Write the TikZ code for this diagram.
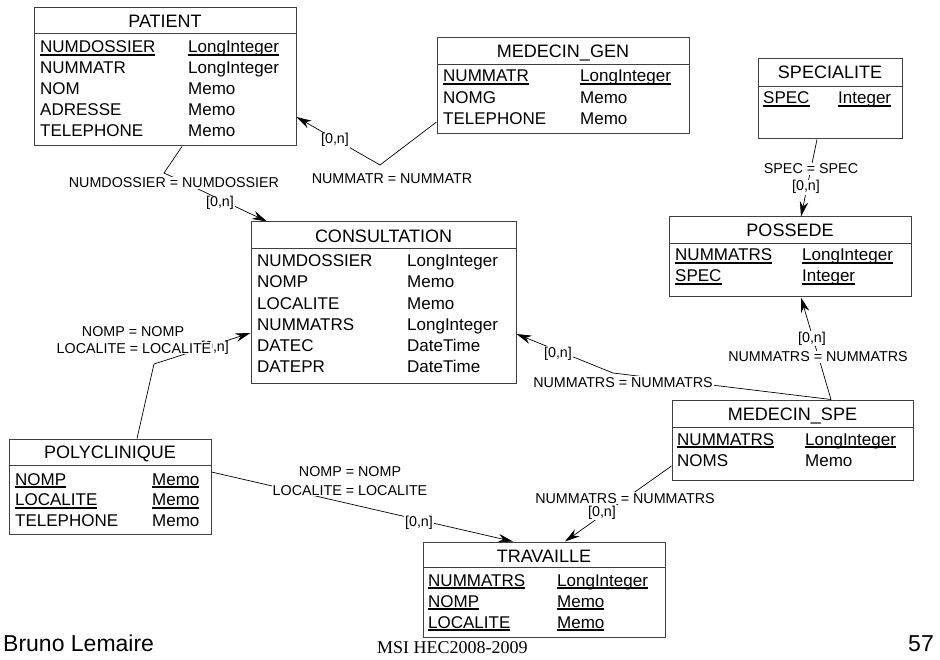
\documentclass[tikz,border=0pt]{standalone}
\usepackage{fontspec}
\setmainfont{Liberation Sans}
\newfontfamily\footserif{Liberation Serif}
\usetikzlibrary{arrows.meta,fit}
\newcommand{\ulx}[1]{\setbox0=\hbox{#1}\rlap{\rule[-3pt]{\wd0}{1.7pt}}\box0}
\definecolor{boxc}{gray}{0.25}
\tikzset{
  ebox/.style={draw=boxc, line width=1pt, inner sep=0pt},
  dv/.style={draw=boxc, line width=1pt},
  ttl/.style={font=\fontsize{18}{20}\selectfont, inner sep=0pt, anchor=base},
  fld/.style={font=\fontsize{17}{20}\selectfont, inner sep=0pt, anchor=base west},
  lbl/.style={font=\fontsize{14.3}{16}\selectfont, fill=white, inner sep=1pt, anchor=base},
  rel/.style={draw=black, line width=0.7pt},
  relarr/.style={rel, -{Stealth[length=15pt,width=8.5pt]}},
  foot/.style={inner sep=0pt},
}
\begin{document}
\begin{tikzpicture}[x=1pt,y=-1pt]
\useasboundingbox (0,0) rectangle (940,660);
\fill[white] (0,0) rectangle (940,660);

% PATIENT
\coordinate (paA) at (34,8); \coordinate (paB) at (296,146);
\node[ebox, fit=(paA)(paB)] (patient) {};
\draw[dv] (patient.west |- 0,34) -- (patient.east |- 0,34);
\node[ttl] (patientT) at (165,28) {PATIENT};
\node[fld] (pa1) at (40,53) {\ulx{NUMDOSSIER}};
\node[fld] (pa1t) at (188,53) {\ulx{LongInteger}};
\node[fld] (pa2) at (40,74) {NUMMATR};
\node[fld] (pa2t) at (188,74) {LongInteger};
\node[fld] (pa3) at (40,95) {NOM};
\node[fld] (pa3t) at (188,95) {Memo};
\node[fld] (pa4) at (40,116) {ADRESSE};
\node[fld] (pa4t) at (188,116) {Memo};
\node[fld] (pa5) at (40,137) {TELEPHONE};
\node[fld] (pa5t) at (188,137) {Memo};

% MEDECIN_GEN
\coordinate (mgA) at (437,38); \coordinate (mgB) at (689,134);
\node[ebox, fit=(mgA)(mgB)] (medgen) {};
\draw[dv] (medgen.west |- 0,65) -- (medgen.east |- 0,65);
\node[ttl] (medgenT) at (563,58) {MEDECIN\_GEN};
\node[fld] (mg1) at (443,82) {\ulx{NUMMATR}};
\node[fld] (mg1t) at (580,82) {\ulx{LongInteger}};
\node[fld] (mg2) at (443,104) {NOMG};
\node[fld] (mg2t) at (580,104) {Memo};
\node[fld] (mg3) at (443,125) {TELEPHONE};
\node[fld] (mg3t) at (580,125) {Memo};

% SPECIALITE
\coordinate (spA) at (758,59); \coordinate (spB) at (902,139);
\node[ebox, fit=(spA)(spB)] (spec) {};
\draw[dv] (spec.west |- 0,87) -- (spec.east |- 0,87);
\node[ttl] (specT) at (830,79) {SPECIALITE};
\node[fld] (sp1) at (763,104) {\ulx{SPEC}};
\node[fld] (sp1t) at (838,104) {\ulx{Integer}};

% POSSEDE
\coordinate (poA) at (669,217); \coordinate (poB) at (911,297);
\node[ebox, fit=(poA)(poB)] (possede) {};
\draw[dv] (possede.west |- 0,244) -- (possede.east |- 0,244);
\node[ttl] (possedeT) at (790,237) {POSSEDE};
\node[fld] (po1) at (675,261) {\ulx{NUMMATRS}};
\node[fld] (po1t) at (802,261) {\ulx{LongInteger}};
\node[fld] (po2) at (675,282) {\ulx{SPEC}};
\node[fld] (po2t) at (802,282) {\ulx{Integer}};

% CONSULTATION
\coordinate (coA) at (251,222); \coordinate (coB) at (516,383);
\node[ebox, fit=(coA)(coB)] (consult) {};
\draw[dv] (consult.west |- 0,249) -- (consult.east |- 0,249);
\node[ttl] (consultT) at (383.5,243) {CONSULTATION};
\node[fld] (co1) at (257,267) {NUMDOSSIER};
\node[fld] (co1t) at (407,267) {LongInteger};
\node[fld] (co2) at (257,288) {NOMP};
\node[fld] (co2t) at (407,288) {Memo};
\node[fld] (co3) at (257,310) {LOCALITE};
\node[fld] (co3t) at (407,310) {Memo};
\node[fld] (co4) at (257,331) {NUMMATRS};
\node[fld] (co4t) at (407,331) {LongInteger};
\node[fld] (co5) at (257,352) {DATEC};
\node[fld] (co5t) at (407,352) {DateTime};
\node[fld] (co6) at (257,373) {DATEPR};
\node[fld] (co6t) at (407,373) {DateTime};

% MEDECIN_SPE
\coordinate (msA) at (672,400); \coordinate (msB) at (913,480);
\node[ebox, fit=(msA)(msB)] (medspe) {};
\draw[dv] (medspe.west |- 0,427) -- (medspe.east |- 0,427);
\node[ttl] (medspeT) at (792.5,420) {MEDECIN\_SPE};
\node[fld] (ms1) at (677,445) {\ulx{NUMMATRS}};
\node[fld] (ms1t) at (805,445) {\ulx{LongInteger}};
\node[fld] (ms2) at (677,466) {NOMS};
\node[fld] (ms2t) at (805,466) {Memo};

% POLYCLINIQUE
\coordinate (plA) at (9,439); \coordinate (plB) at (211,534);
\node[ebox, fit=(plA)(plB)] (poly) {};
\draw[dv] (poly.west |- 0,465) -- (poly.east |- 0,465);
\node[ttl] (polyT) at (110,458) {POLYCLINIQUE};
\node[fld] (pl1) at (15,485) {\ulx{NOMP}};
\node[fld] (pl1t) at (152,485) {\ulx{Memo}};
\node[fld] (pl2) at (15,505.5) {\ulx{LOCALITE}};
\node[fld] (pl2t) at (152,505.5) {\ulx{Memo}};
\node[fld] (pl3) at (15,526) {TELEPHONE};
\node[fld] (pl3t) at (152,526) {Memo};

% TRAVAILLE
\coordinate (trA) at (423,542); \coordinate (trB) at (665,637);
\node[ebox, fit=(trA)(trB)] (travaille) {};
\draw[dv] (travaille.west |- 0,567) -- (travaille.east |- 0,567);
\node[ttl] (travailleT) at (544,562) {TRAVAILLE};
\node[fld] (tr1) at (428,586) {\ulx{NUMMATRS}};
\node[fld] (tr1t) at (557,586) {\ulx{LongInteger}};
\node[fld] (tr2) at (428,607) {\ulx{NOMP}};
\node[fld] (tr2t) at (557,607) {\ulx{Memo}};
\node[fld] (tr3) at (428,628) {\ulx{LOCALITE}};
\node[fld] (tr3t) at (557,628) {\ulx{Memo}};

% Relations
% PATIENT -> CONSULTATION
\draw[relarr] (patient.south -| 182,0) -- (164,173) -- (consult.north -| 267,0);
\node[lbl] (r1a) at (174,188) {NUMDOSSIER = NUMDOSSIER};
\node[lbl] (r1b) at (220,207) {[0,n]};

% MEDECIN_GEN -> PATIENT
\draw[relarr] (medgen.west |- 0,122) -- (380,165) -- (patient.east |- 0,117);
\node[lbl] (r2a) at (392,184) {NUMMATR = NUMMATR};
\node[lbl] (r2b) at (335,144) {[0,n]};

% SPECIALITE -> POSSEDE
\draw[relarr] (spec.south -| 817,0) -- (possede.north -| 801,0);
\node[lbl] (r3a) at (811,174) {SPEC = SPEC};
\node[lbl] (r3b) at (806,191) {[0,n]};

% MEDECIN_SPE -> POSSEDE
\draw[relarr] (medspe.north -| 831,0) -- (possede.south -| 801,0);
\node[lbl] (r4b) at (812,342) {[0,n]};
\node[lbl] (r4a) at (818,362) {NUMMATRS = NUMMATRS};

% MEDECIN_SPE -> CONSULTATION
\draw[relarr] (medspe.north -| 831,0) -- (613,373) -- (consult.east |- 0,334);
\node[lbl] (r5a) at (623,387) {NUMMATRS = NUMMATRS};
\node[lbl] (r5b) at (558,357) {[0,n]};

% POLYCLINIQUE -> CONSULTATION
\draw[relarr] (poly.north -| 137,0) -- (154,364) -- (consult.west |- 0,333);
\node[lbl] (r6b) at (215,352) {[0,n]};
\node[lbl] (r6a) at (133,337) {NOMP = NOMP};
\node[lbl] (r6c) at (134,353) {LOCALITE = LOCALITE};

% POLYCLINIQUE -> TRAVAILLE
\draw[relarr] (poly.east |- 0,472) -- (travaille.north -| 513,0);
\node[lbl] (r7a) at (350,476.5) {NOMP = NOMP};
\node[lbl] (r7c) at (350,495) {LOCALITE = LOCALITE};
\node[lbl] (r7b) at (419,526) {[0,n]};

% MEDECIN_SPE -> TRAVAILLE
\draw[relarr] (medspe.west |- 0,466) -- (travaille.north -| 565,0);
\node[lbl] (r8a) at (625,503) {NUMMATRS = NUMMATRS};
\node[lbl] (r8b) at (602,516.5) {[0,n]};

% Footer
\node[foot, anchor=base west, font=\fontsize{23}{26}\selectfont] (author) at (3,651) {Bruno Lemaire};
\node[foot, anchor=base west, font=\footserif\fontsize{18}{20}\selectfont] (course) at (377,653) {MSI HEC2008-2009};
\node[foot, anchor=base east, font=\fontsize{23}{26}\selectfont] (pagenum) at (934,651) {57};
\end{tikzpicture}
\end{document}
